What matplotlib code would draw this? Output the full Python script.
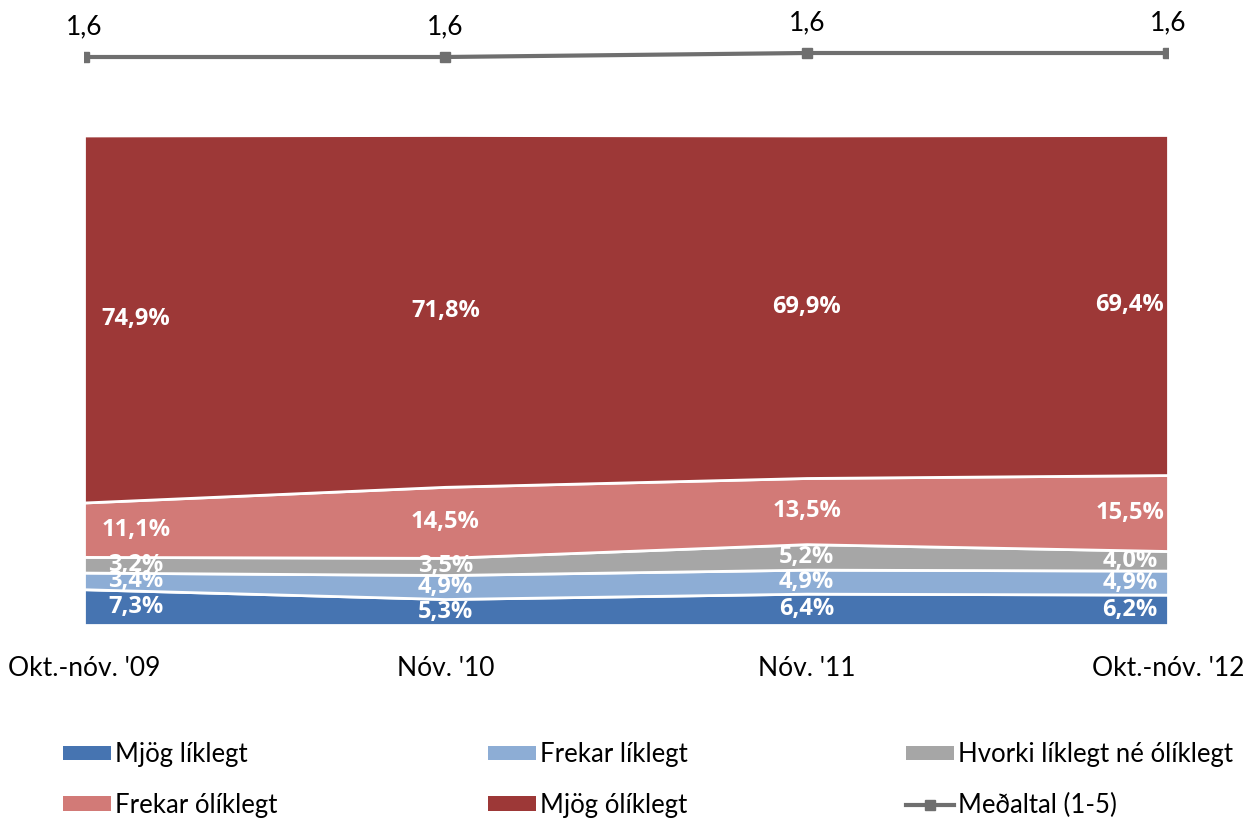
import matplotlib
matplotlib.use("Agg")
import matplotlib.pyplot as plt
from matplotlib.patches import Patch
from matplotlib.lines import Line2D
import numpy as np

plt.rcParams['font.family'] = ['Lato', 'DejaVu Sans']

categories = ["Okt.-nóv. '09", "Nóv. '10", "Nóv. '11", "Okt.-nóv. '12"]
series_names = ["Mjög líklegt", "Frekar líklegt", "Hvorki líklegt né ólíklegt",
                "Frekar ólíklegt", "Mjög ólíklegt"]
mjog_liklegt = [7.3, 5.3, 6.4, 6.2]
frekar_liklegt = [3.4, 4.9, 4.9, 4.9]
hvorki = [3.2, 3.5, 5.2, 4.0]
frekar_oliklegt = [11.1, 14.5, 13.5, 15.5]
mjog_oliklegt = [74.9, 71.8, 69.9, 69.4]
medaltal = [1.58, 1.58, 1.62, 1.62]
medaltal_labels = ["1,6", "1,6", "1,6", "1,6"]
line_name = "Meðaltal (1-5)"

colors = ["#4674B1", "#8DADD5", "#A6A6A6", "#D27A77", "#9D3837"]
line_color = "#6F6F6F"

W, H = 1247, 818
fig = plt.figure(figsize=(W / 100, H / 100), dpi=100)

def px_axes(left, top, right, bottom):
    return fig.add_axes([left / W, 1 - bottom / H, (right - left) / W, (bottom - top) / H])

ax = px_axes(84, 135, 1168, 625)
x = np.arange(len(categories))
stack = [mjog_liklegt, frekar_liklegt, hvorki, frekar_oliklegt, mjog_oliklegt]
ax.stackplot(x, *stack, colors=colors, edgecolor="white", linewidth=2)
ax.set_xlim(0, len(categories) - 1)
ax.set_ylim(0, 100)
for s in ax.spines.values():
    s.set_visible(False)
ax.set_yticks([])
ax.set_xticks(x)
ax.set_xticklabels(categories, fontsize=19)
ax.tick_params(axis='x', length=0, pad=22)

fs_lab = 17
xoff = [52, 0, 0, -38]
cum = np.zeros(len(categories))
for vals in stack:
    vals = np.array(vals)
    for i, v in enumerate(vals):
        ax.annotate(f"{v:.1f}%".replace(".", ","), (x[i], cum[i] + v / 2),
                    xytext=(xoff[i], 0), textcoords="offset pixels",
                    ha="center", va="center", color="white", fontweight="bold",
                    fontsize=fs_lab, family=["Open Sans", "DejaVu Sans"])
    cum += vals

lax = px_axes(84, 15, 1168, 95)
lax.plot(x, medaltal, color=line_color, linewidth=3, marker="s", markersize=7)
lax.set_xlim(0, len(categories) - 1)
lax.set_ylim(1.2, 2.0)
lax.axis("off")
for i, v in enumerate(medaltal):
    lax.annotate(medaltal_labels[i], (x[i], v), xytext=(0, 30), textcoords="offset pixels",
                 ha="center", va="center", fontsize=19, color="black", annotation_clip=False)

handles = [Patch(facecolor=c, edgecolor="none") for c in colors]
handles.append(Line2D([0], [0], color=line_color, linewidth=3, marker="s", markersize=7))
labels = series_names + [line_name]
cols = [(0, 3), (1, 4), (2, 5)]
col_x = [58, 483, 901]
for (a, b), cx in zip(cols, col_x):
    fig.legend([handles[a], handles[b]], [labels[a], labels[b]],
               loc="upper left", bbox_to_anchor=(cx / W, 1 - 737 / H),
               frameon=False, fontsize=18.5, handlelength=1.85, handleheight=0.5,
               handletextpad=0.15, labelspacing=1.0, borderaxespad=0, borderpad=0.2)

fig.savefig("out.png", dpi=100)
